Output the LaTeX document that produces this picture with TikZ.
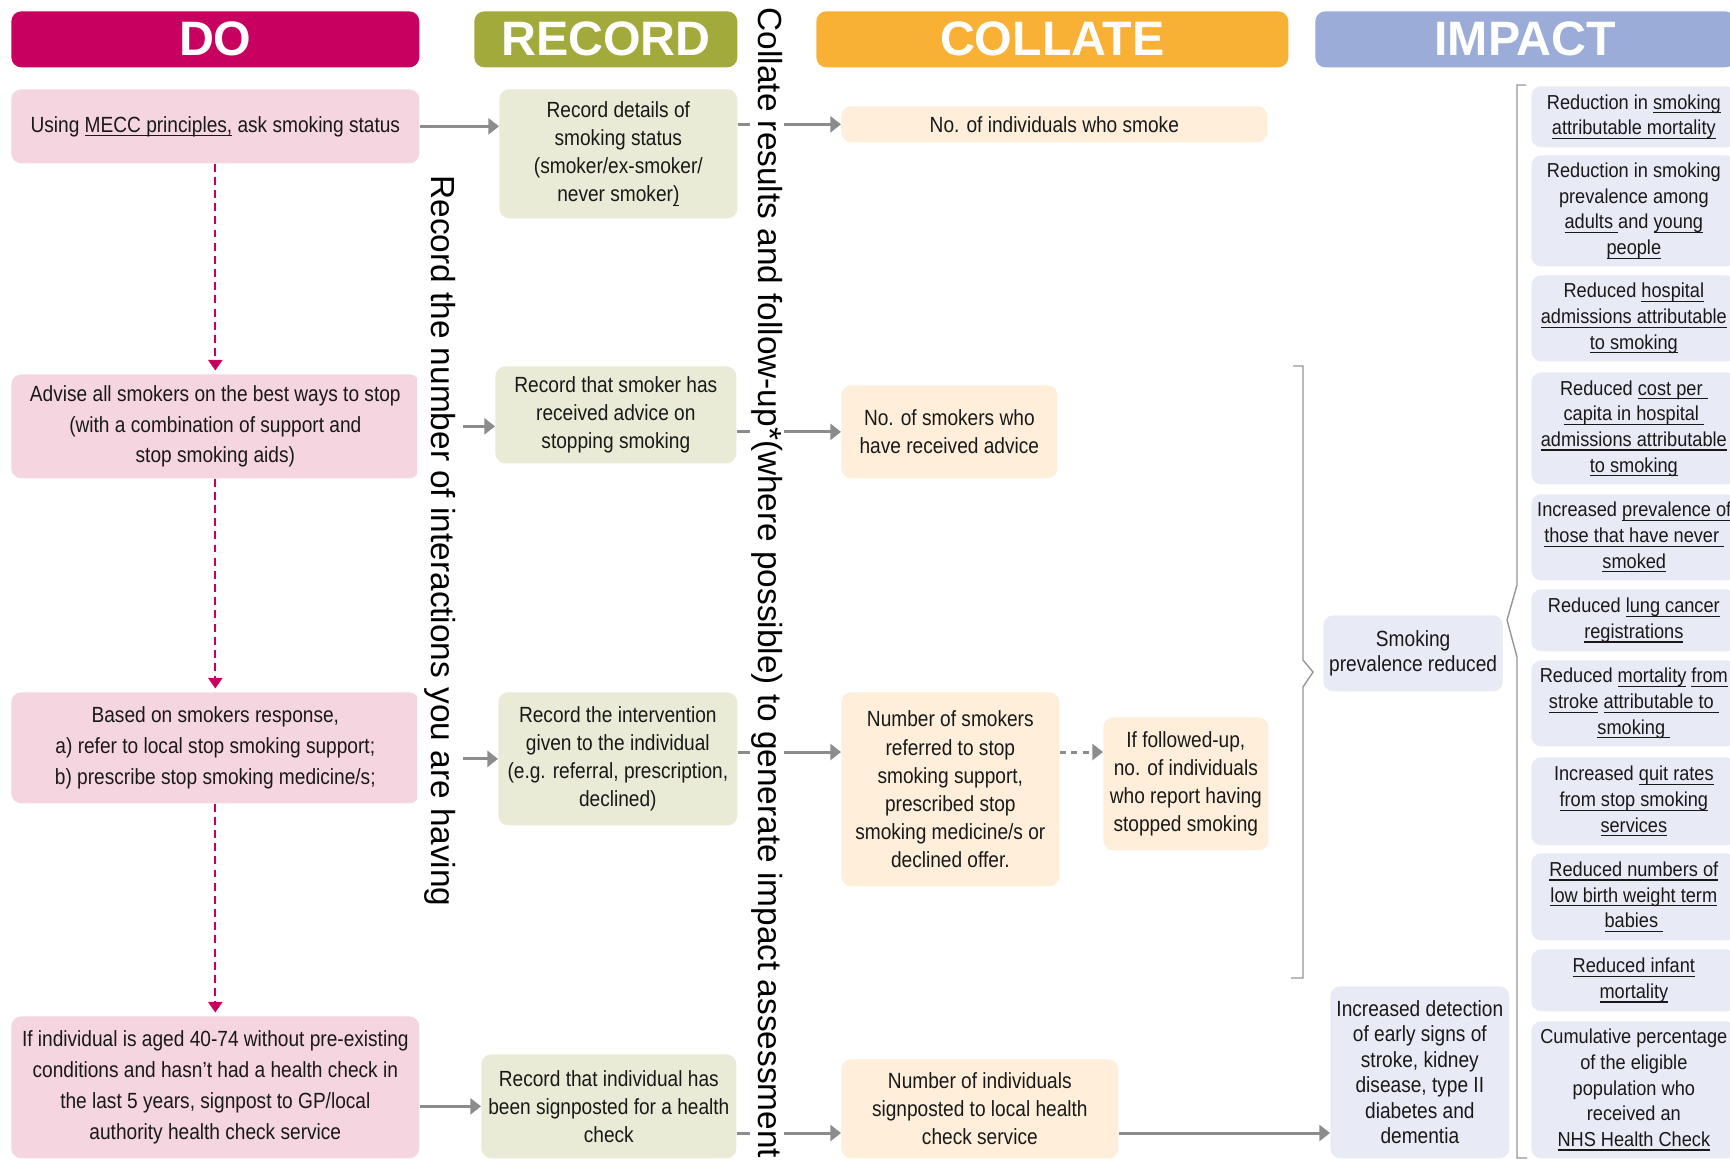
\documentclass[tikz,border=0pt]{standalone}
\usepackage{fontspec}
\setmainfont{Liberation Sans}
\newfontfamily\narrowfont{Liberation Sans}[FakeStretch=0.87]
\newfontfamily\impactfont{Liberation Sans}[FakeStretch=0.9]
\usetikzlibrary{arrows.meta}

\newcommand{\uln}[1]{\setbox0\hbox{#1}\leavevmode\rlap{\vrule height -1.7pt depth 2.4pt width \wd0}\box0\relax}

\definecolor{dohead}{RGB}{200,0,95}
\definecolor{rechead}{RGB}{163,170,60}
\definecolor{colhead}{RGB}{248,177,52}
\definecolor{imphead}{RGB}{155,172,216}
\definecolor{dofill}{RGB}{245,213,223}
\definecolor{recfill}{RGB}{233,235,214}
\definecolor{colfill}{RGB}{254,238,218}
\definecolor{impfill}{RGB}{232,234,246}
\definecolor{arrgray}{RGB}{140,140,140}
\definecolor{brgray}{RGB}{150,150,150}
\definecolor{txt}{RGB}{25,25,25}

\tikzset{
  head/.style={fill=#1,rounded corners=0.2cm,text=white,anchor=north west,minimum height=1.12cm,font=\bfseries\fontsize{27.5}{30}\selectfont},
  box/.style={rounded corners=0.2cm,anchor=north west,align=center,text=txt},
  dobox/.style={box,fill=dofill,font=\narrowfont\fontsize{12.5}{17.5}\selectfont},
  recbox/.style={box,fill=recfill,font=\narrowfont\fontsize{12.5}{16}\selectfont},
  colbox/.style={box,fill=colfill,font=\narrowfont\fontsize{12.5}{16}\selectfont},
  impbox/.style={box,fill=impfill,font=\narrowfont\fontsize{12.5}{14.5}\selectfont},
  outbox/.style={box,fill=impfill,minimum width=4.1cm,font=\impactfont\fontsize{11.5}{14.6}\selectfont},
  vtext/.style={rotate=-90,fill=white,inner sep=1pt,font=\fontsize{19}{22}\selectfont},
  arr/.style={draw=arrgray,line width=1.7pt,-{Triangle[length=6pt,width=9pt]}},
  garr/.style={arr,dash pattern=on 3.5pt off 3pt},
  darr/.style={draw=dohead,line width=1.1pt,dash pattern=on 4.5pt off 3pt,-{Triangle[length=6pt,width=8pt]},shorten >=2pt},
  bracket/.style={draw=brgray,line width=0.8pt}
}

\begin{document}
\begin{tikzpicture}[x=0.02cm,y=-0.02cm]
\path[use as bounding box,fill=white] (0,0) rectangle (1730,1160);

% column heads
\node[head=dohead,minimum width=8.16cm] (hdo) at (11,11) {DO};
\node[head=rechead,minimum width=5.26cm] (hrec) at (474,11) {RECORD};
\node[head=colhead,minimum width=9.44cm] (hcol) at (816,11) {COLLATE};
\node[head=imphead,minimum width=8.4cm] (himp) at (1315,11) {IMPACT};

% do
\node[dobox,minimum width=8.16cm,minimum height=1.48cm] (do1) at (11,89) {Using \uln{MECC principles,} ask smoking status};
\node[dobox,minimum width=8.16cm,minimum height=2.08cm] (do2) at (11,374) {Advise all smokers on the best ways to stop\\(with a combination of support and\\stop smoking aids)};
\node[dobox,minimum width=8.16cm,minimum height=2.22cm] (do3) at (11,692) {Based on smokers response,\\a) refer to local stop smoking support;\\b) prescribe stop smoking medicine/s;};
\node[dobox,minimum width=8.16cm,minimum height=2.84cm] (do4) at (11,1016) {If individual is aged 40-74 without pre-existing\\conditions and hasn’t had a health check in\\the last 5 years, signpost to GP/local\\authority health check service};

% record
\node[recbox,minimum width=4.76cm,minimum height=2.58cm] (rec1) at (499,89) {Record details of\\smoking status\\(smoker/ex-smoker/\\never smoker\uln{)}};
\node[recbox,minimum width=4.82cm,minimum height=1.94cm] (rec2) at (495,366) {Record that smoker has\\received advice on\\stopping smoking};
\node[recbox,minimum width=4.78cm,minimum height=2.66cm] (rec3) at (498,692) {Record the intervention\\given to the individual\\(e.g. referral, prescription,\\declined)};
\node[recbox,minimum width=5.1cm,minimum height=2.08cm] (rec4) at (481,1054) {Record that individual has\\been signposted for a health\\check};

% collate
\node[colbox,minimum width=8.52cm,minimum height=0.72cm] (col1) at (841,106) {No. of individuals who smoke};
\node[colbox,minimum width=4.32cm,minimum height=1.86cm] (col2) at (841,385) {No. of smokers who\\have received advice};
\node[colbox,minimum width=4.36cm,minimum height=3.88cm] (col3) at (841,692) {Number of smokers\\referred to stop\\smoking support,\\prescribed stop\\smoking medicine/s or\\declined offer.};
\node[colbox,minimum width=3.3cm,minimum height=2.66cm] (colfu) at (1103,717) {If followed-up,\\no. of individuals\\who report having\\stopped smoking};
\node[colbox,minimum width=5.54cm,minimum height=1.98cm] (col4) at (841,1059) {Number of individuals\\signposted to local health\\check service};

% impact
\node[impbox,minimum width=3.58cm,minimum height=1.52cm] (smk) at (1323,615) {Smoking\\prevalence reduced};
\node[impbox,minimum width=3.58cm,minimum height=3.44cm] (det) at (1330,986) {Increased detection\\of early signs of\\stroke, kidney\\disease, type II\\diabetes and\\dementia};

\node[outbox,minimum height=1.22cm] (out1) at (1531,86) {Reduction in \uln{smoking}\\\uln{attributable mortality}};
\node[outbox,minimum height=2.22cm] (out2) at (1531,155) {Reduction in smoking\\prevalence among\\\uln{adults }and \uln{young}\\\uln{people}};
\node[outbox,minimum height=1.72cm] (out3) at (1531,275) {Reduced \uln{hospital}\\\uln{admissions attributable}\\\uln{to smoking}};
\node[outbox,minimum height=2.24cm] (out4) at (1531,372) {Reduced \uln{cost per }\\\uln{capita in hospital }\\\uln{admissions attributable}\\\uln{to smoking}};
\node[outbox,minimum height=1.72cm] (out5) at (1531,494) {Increased \uln{prevalence of}\\\uln{those that have never }\\\uln{smoked}};
\node[outbox,minimum height=1.24cm] (out6) at (1531,589) {Reduced \uln{lung cancer}\\\uln{registrations}};
\node[outbox,minimum height=1.72cm] (out7) at (1531,660) {Reduced \uln{mortality} \uln{from}\\\uln{stroke} \uln{attributable to }\\\uln{smoking }};
\node[outbox,minimum height=1.76cm] (out8) at (1531,757) {Increased \uln{quit rates}\\\uln{from stop smoking}\\\uln{services}};
\node[outbox,minimum height=1.74cm] (out9) at (1531,853) {\uln{Reduced numbers of}\\\uln{low birth weight term}\\\uln{babies }};
\node[outbox,minimum height=1.24cm] (out10) at (1531,949) {\uln{Reduced infant}\\\uln{mortality}};
\node[outbox,minimum height=2.74cm] (out11) at (1531,1021) {Cumulative percentage\\of the eligible\\population who\\received an\\\uln{NHS Health Check}};

% brackets
\draw[bracket] (1293,366) -- (1303,366) -- (1303,660) -- (1313,672) -- (1303,687) -- (1303,978) -- (1291,978);
\draw[bracket] (1526,85) -- (1517,85) -- (1517,585) -- (1507,620) -- (1517,657) -- (1517,1158) -- (1527,1158);

% arrows
\coordinate (r3) at (0,752);
\coordinate (r4) at (0,1133);
\draw[darr] (do1) -- (do2);
\draw[darr] (do2) -- (do3);
\draw[darr] (do3) -- (do4);
\draw[arr] (do1) -- (rec1.west |- do1);
\draw[arr] (rec1.east |- col1) -- (col1);
\draw[arr] (do2) -- (rec2.west |- do2);
\draw[arr] (rec2.east |- col2) -- (col2);
\draw[arr] (do3.east |- rec3) -- (rec3);
\draw[arr] (rec3.east |- r3) -- (col3.west |- r3);
\draw[garr] (col3.east |- r3) -- (colfu.west |- r3);
\draw[arr] (do4.east |- rec4) -- (rec4);
\draw[arr] (rec4.east |- r4) -- (col4.west |- r4);
\draw[arr] (col4.east |- r4) -- (det.west |- r4);

% side texts
\node[vtext,inner ysep=4pt] (vrec) at (440,541) {Record the number of interactions you are having};
\node[vtext] (vcol) at (767,583) {Collate results and follow-up*(where possible) to generate impact assessment};
\end{tikzpicture}
\end{document}
